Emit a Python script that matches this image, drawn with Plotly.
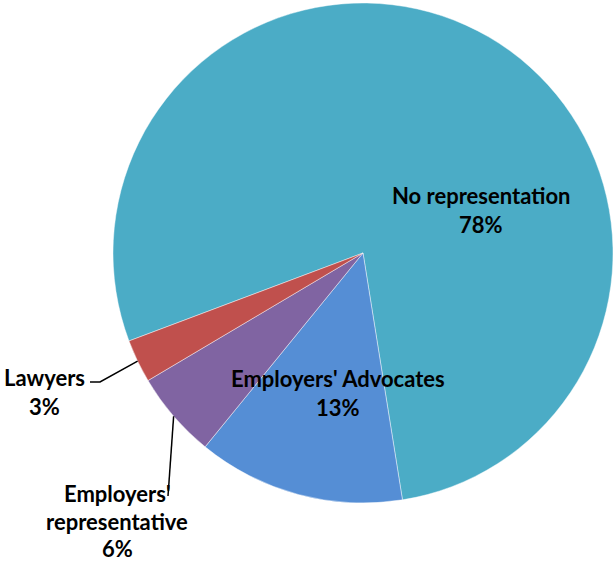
import math
import plotly.graph_objects as go

# ---- data ----
categories = ["No representation", "Employers' Advocates", "Employers' representative", "Lawyers"]
values = [78.2, 13.4, 5.6, 2.8]
colors = ["#4BACC6", "#558ED5", "#8064A2", "#C0504D"]
label_lines = [["No representation"], ["Employers' Advocates"], ["Employers'", "representative"], ["Lawyers"]]

W, H = 614, 565
CX, CY, R = 363, 253, 250          # pie centre / radius in px
ROT = 249.4                          # clockwise from 12 o'clock where first slice starts

total = sum(values)
pct = [f"{round(v / total * 100)}%" for v in values]

fig = go.Figure(go.Pie(
    labels=categories,
    values=values,
    sort=False,
    direction="clockwise",
    rotation=ROT - 360,
    marker=dict(colors=colors, line=dict(color="rgba(255,255,255,0.55)", width=0.8)),
    textinfo="none",
    hoverinfo="label+percent",
    showlegend=False,
    domain=dict(x=[(CX - R) / W, (CX + R) / W], y=[1 - (CY + R) / H, 1 - (CY - R) / H]),
))

def px2paper(x, y):
    return x / W, 1 - y / H

# label block centres (px) and line spacing
label_pos = [(481, 210), (338, 393), (117, 521), (44, 392)]
LINE_GAP = [29.5, 29.5, 27.5, 29.5]

font = dict(family="Lato, Liberation Sans, Arial", size=22, color="black")
annotations = []
for i, cat in enumerate(categories):
    lines = label_lines[i] + [pct[i]]
    n = len(lines)
    cx, cy = label_pos[i]
    for j, ln in enumerate(lines):
        ly = cy + (j - (n - 1) / 2) * LINE_GAP[i]
        ax, ay = px2paper(cx, ly)
        annotations.append(dict(x=ax, y=ay, xref="paper", yref="paper", text="<b>" + ln + "</b>",
                                showarrow=False, font=font, align="center",
                                xanchor="center", yanchor="middle", borderpad=0))

# leader lines: start on the rim at slice mid-angle
shapes = []
cum = 0.0
mid_pts = []
for v in values:
    a = ROT + (cum + v / 2) / total * 360
    cum += v
    rad = math.radians(a)
    mid_pts.append((CX + R * math.sin(rad), CY - R * math.cos(rad)))

leader_ends = {3: [(100, 382), (90, 382)], 2: [(168, 496)]}
for i, pts in leader_ends.items():
    allp = [mid_pts[i]] + pts
    path = ""
    for j, (x, y) in enumerate(allp):
        px, py = px2paper(x, y)
        path += ("M" if j == 0 else "L") + f"{px:.5f},{py:.5f} "
    shapes.append(dict(type="path", path=path.strip(), xref="paper", yref="paper",
                       line=dict(color="black", width=1.5)))

fig.update_layout(
    width=W, height=H,
    margin=dict(l=0, r=0, t=0, b=0),
    paper_bgcolor="white", plot_bgcolor="white",
    annotations=annotations, shapes=shapes,
)
fig.write_html("out.html", config={"displayModeBar": False},
               post_script="document.body.style.margin='0';document.body.style.overflow='hidden';")
